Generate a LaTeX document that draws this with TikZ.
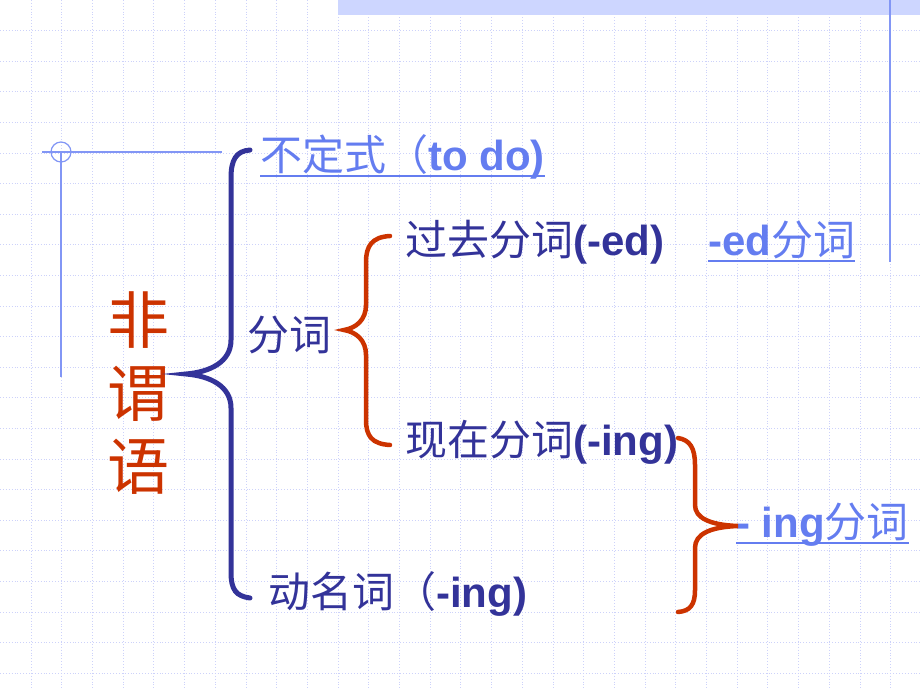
\documentclass[tikz,border=0pt]{standalone}
\usepackage{fontspec}
\setmainfont{Liberation Sans}
\newfontfamily\cjk{Noto Sans CJK SC}
\definecolor{navy}{RGB}{51,51,153}
\definecolor{bracered}{RGB}{204,51,0}
\definecolor{linkblue}{RGB}{100,125,240}
\definecolor{gridblue}{RGB}{205,210,250}
\definecolor{bandblue}{RGB}{205,214,255}
\definecolor{ruleblue}{RGB}{130,150,245}
\begin{document}
\begin{tikzpicture}[x=1pt,y=-1pt,
    gridline/.style={draw=gridblue,line width=0.7pt,dash pattern=on 0.9pt off 2pt},
    bigbrace/.style={draw=navy,line width=5pt,line cap=round},
    redbrace/.style={draw=bracered,line width=4.5pt,line cap=round},
    item/.style={anchor=base west,inner sep=0pt,text=navy,font=\fontsize{42}{50}\selectfont},
    link/.style={item,text=linkblue},
    linkline/.style={draw=linkblue,line width=1.6pt}]
  \useasboundingbox (0,0) rectangle (920,690);
  % background grid
  \foreach \i in {0,...,28}
    \draw [gridline] ({31+30.7*\i},0) -- ({31+30.7*\i},690);
  \foreach \j in {0,...,21}
    \draw [gridline] (0,{30.5+30.6*\j}) -- (920,{30.5+30.6*\j});
  \fill [bandblue] (338,0) rectangle (920,15);
  \draw [ruleblue,line width=1.5pt] (890,0) -- (890,262);
  \draw [ruleblue,line width=1.5pt] (42,152) -- (222,152);
  \draw [ruleblue,line width=1.5pt] (61,152) -- (61,377);
  \draw [ruleblue,line width=1.2pt] (61,152) circle (10);
  % labels
  \node [text=bracered,font=\cjk\fontsize{62}{73}\selectfont,align=center,inner sep=0pt] (fwy) at (138,393) {非\\谓\\语};
  \node [link] (todo) at (260,170) {{\cjk 不定式（}\textbf{to do)}};
  \node [item] (fenci) at (247,350) {\cjk 分词};
  \node [item] (guoqu) at (405,255) {{\cjk 过去分词}\textbf{(-ed)}};
  \node [link] (edfc) at (708,255) {\textbf{-ed}{\cjk 分词}};
  \node [item] (xianzai) at (405,455) {{\cjk 现在分词}\textbf{(-ing)}};
  \node [link] (ingfc) at (736,537) {\textbf{- ing}{\cjk 分词}};
  \node [item] (dongming) at (268,607) {{\cjk 动名词（}\textbf{-ing)}};
  % underlines
  \draw [linkline] ([yshift=-6pt]todo.base west) -- ([yshift=-6pt]todo.base east);
  \draw [linkline] ([yshift=-6pt]edfc.base west) -- ([yshift=-6pt]edfc.base east);
  \draw [linkline] ([yshift=-6pt]ingfc.base west) -- ([yshift=-6pt]ingfc.base east);
  % braces
  \draw [bigbrace] (250,150) .. controls (236,151) and (231,160) .. (231,178) -- (231,340)
    .. controls (231,362) and (210,372) .. (186,374) .. controls (210,376) and (231,386) .. (231,408)
    -- (231,572) .. controls (231,590) and (236,596) .. (250,598);
  \draw [redbrace] (390,236) .. controls (372,237) and (366,246) .. (366,262) -- (366,305)
    .. controls (366,320) and (356,328) .. (344,330) .. controls (356,332) and (366,340) .. (366,355)
    -- (366,420) .. controls (366,436) and (372,444) .. (390,445);
  \draw [redbrace] (678,438) .. controls (690,440) and (695,448) .. (695,465) -- (695,505)
    .. controls (695,518) and (710,525) .. (738,526) .. controls (710,527) and (695,534) .. (695,548)
    -- (695,590) .. controls (695,605) and (690,611) .. (678,612);
\end{tikzpicture}
\end{document}
